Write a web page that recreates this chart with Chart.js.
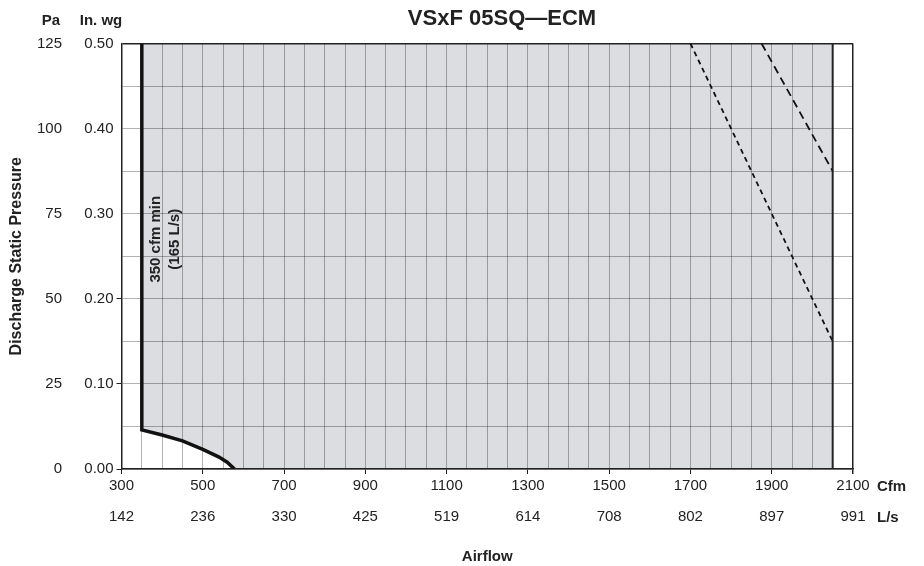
<!DOCTYPE html>
<html>
<head>
<meta charset="utf-8">
<script src="https://cdn.jsdelivr.net/npm/chart.js@4"></script>
<style>
  html, body { margin: 0; padding: 0; background: #fff; }
</style>
</head>
<body>
<canvas id="chart" width="924" height="566"></canvas>
<script>
// axis labels
const cfmTicks = [300, 500, 700, 900, 1100, 1300, 1500, 1700, 1900, 2100];
const lpsTicks = [142, 236, 330, 425, 519, 614, 708, 802, 897, 991];
const inwgTicks = [0, 0.1, 0.2, 0.3, 0.4, 0.5];
const paTicks = [0, 25, 50, 75, 100, 125];

// minimum airflow limit + low pressure curve (cfm, in. wg)
const minCfm = [350, 350, 400, 450, 500, 540, 560, 578];
const minPs  = [0.50, 0.046, 0.040, 0.033, 0.023, 0.014, 0.008, 0];

// maximum airflow limit
const maxCfm = [2050, 2050];
const maxPs  = [0, 0.50];

// dashed limit lines
const dashACfm = [1700, 2050];
const dashAPs  = [0.50, 0.15];
const dashBCfm = [1875, 2050];
const dashBPs  = [0.50, 0.35];

const pts = (xs, ys) => xs.map((x, i) => ({ x: x, y: ys[i] }));

const INK = '#222';
const GRID = 'rgba(0,0,0,0.3)';
Chart.defaults.font.family = '"Liberation Sans", Arial, Helvetica, sans-serif';
Chart.defaults.color = INK;

const isInwgTick = v => inwgTicks.some(t => Math.abs(t - v) < 1e-6);

const textPlugin = {
  id: 'chartText',
  afterDraw(chart) {
    const { ctx } = chart;
    const x = chart.scales.x, y = chart.scales.y;
    ctx.save();
    ctx.fillStyle = INK;
    ctx.textBaseline = 'alphabetic';
    ctx.textAlign = 'center';
    ctx.font = 'bold 22px "Liberation Sans", Arial, sans-serif';
    ctx.fillText('VSxF 05SQ\u2014ECM', 502, 25);

    ctx.font = 'bold 15px "Liberation Sans", Arial, sans-serif';
    ctx.fillText('Pa', 51, 25);
    ctx.fillText('In. wg', 101, 25);

    ctx.textAlign = 'left';
    ctx.fillText('Cfm', 877, 491);
    ctx.fillText('L/s', 877, 522);

    // min airflow note
    ctx.translate(x.getPixelForValue(385), y.getPixelForValue(0.27));
    ctx.rotate(-Math.PI / 2);
    ctx.textAlign = 'center';
    ctx.textBaseline = 'middle';
    ctx.fillText('350 cfm min', 0, 0);
    ctx.fillText('(165 L/s)', 0, 19);
    ctx.restore();
  }
};

new Chart(document.getElementById('chart').getContext('2d'), {
  type: 'scatter',
  data: {
    datasets: [
      {
        // operating region
        data: pts(minCfm.concat([2050, 2050]), minPs.concat([0, 0.50])),
        showLine: true,
        fill: 'end',
        backgroundColor: '#dcdde0',
        borderColor: 'transparent',
        borderWidth: 0,
        pointRadius: 0
      },
      {
        data: pts(minCfm, minPs),
        showLine: true,
        borderColor: '#111',
        borderWidth: 3.5,
        borderJoinStyle: 'miter',
        pointRadius: 0
      },
      {
        data: pts(maxCfm, maxPs),
        showLine: true,
        borderColor: INK,
        borderWidth: 2,
        pointRadius: 0
      },
      {
        data: pts(dashACfm, dashAPs),
        showLine: true,
        borderColor: '#111',
        borderWidth: 1.8,
        borderDash: [5, 4],
        pointRadius: 0
      },
      {
        data: pts(dashBCfm, dashBPs),
        showLine: true,
        borderColor: '#111',
        borderWidth: 1.8,
        borderDash: [8, 5],
        pointRadius: 0
      }
    ]
  },
  options: {
    responsive: false,
    animation: false,
    layout: { padding: { left: 0, right: 71, top: 43.5, bottom: 0 } },
    plugins: {
      legend: { display: false },
      tooltip: { enabled: false },
      filler: { drawTime: 'beforeDraw' }
    },
    scales: {
      x: {
        type: 'linear',
        position: 'bottom',
        weight: 0,
        min: 300,
        max: 2100,
        ticks: {
          stepSize: 50,
          autoSkip: false,
          maxRotation: 0,
          padding: 3,
          font: { size: 15 },
          callback: v => cfmTicks.includes(v) ? String(v) : ''
        },
        grid: {
          color: c => c.tick.value === 2100 ? INK : GRID,
          lineWidth: c => c.tick.value === 2100 ? 1.5 : 1,
          tickLength: 5,
          tickColor: c => cfmTicks.includes(c.tick.value) ? INK : 'transparent'
        },
        border: { color: INK, width: 1.5 },
        afterFit: s => { s.height = 30; }
      },
      lps: {
        type: 'linear',
        position: 'bottom',
        weight: 1,
        min: 300,
        max: 2100,
        afterBuildTicks: s => { s.ticks = cfmTicks.map(v => ({ value: v })); },
        ticks: {
          autoSkip: false,
          maxRotation: 0,
          padding: 9,
          font: { size: 15 },
          callback: (v, i) => String(lpsTicks[i])
        },
        grid: { display: false, drawTicks: false },
        border: { display: false },
        title: {
          display: true,
          text: 'Airflow',
          font: { size: 15, weight: 'bold' },
          padding: 0
        },
        afterFit: s => { s.height = 67; }
      },
      y: {
        type: 'linear',
        position: 'left',
        weight: 0,
        min: 0,
        max: 0.5,
        ticks: {
          stepSize: 0.05,
          autoSkip: false,
          padding: 3,
          font: { size: 15 },
          callback: v => isInwgTick(v) ? v.toFixed(2) : ''
        },
        grid: {
          color: c => c.tick.value > 0.499 ? INK : GRID,
          lineWidth: c => c.tick.value > 0.499 ? 1.5 : 1,
          tickLength: 5,
          tickColor: c => (isInwgTick(c.tick.value) && c.tick.value < 0.25) ? INK : 'transparent'
        },
        border: { color: INK, width: 1.5 },
        afterFit: s => { s.width = 51.5; }
      },
      pa: {
        type: 'linear',
        position: 'left',
        weight: 1,
        min: 0,
        max: 125,
        afterBuildTicks: s => { s.ticks = paTicks.map(v => ({ value: v })); },
        ticks: { padding: 8, font: { size: 15 } },
        grid: { display: false, drawTicks: false },
        border: { display: false },
        title: {
          display: true,
          text: 'Discharge Static Pressure',
          font: { size: 16, weight: 'bold' },
          padding: { top: 7, bottom: 0 }
        },
        afterFit: s => { s.width = 70; }
      }
    }
  },
  plugins: [textPlugin]
});
</script>
</body>
</html>
